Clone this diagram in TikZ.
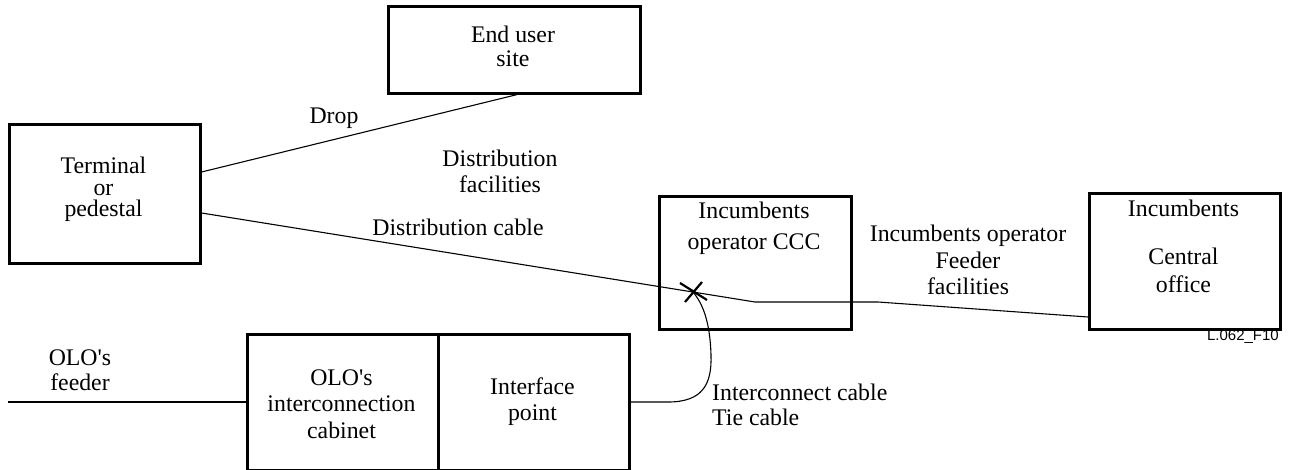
\documentclass[tikz,border=0pt]{standalone}
\usepackage{fontspec}
\setmainfont{Liberation Serif}
\setsansfont{Liberation Sans}
\newcommand{\apos}{\textquotesingle}
\begin{document}
\begin{tikzpicture}[x=1pt,y=-1pt,
  box/.style={draw, line width=2.6pt, inner sep=0pt, anchor=north west},
  lbl/.style={align=center, inner sep=0pt, anchor=base, font=\fontsize{23.8}{26}\selectfont},
  cable/.style={line width=1.1pt},
  crossmark/.style={line width=2.2pt}]
\useasboundingbox (0,0) rectangle (1289,470);

% boxes
\node[box, minimum width=191, minimum height=139] (term) at (8,123) {};
\node[box, minimum width=252, minimum height=87]  (eu)   at (387,5) {};
\node[box, minimum width=192, minimum height=133] (ccc)  at (658,195) {};
\node[box, minimum width=191, minimum height=136] (co)   at (1088,192) {};
\node[box, minimum width=191, minimum height=135.5] (olo) at (246,333) {};
\node[box, minimum width=191, minimum height=135.5] (ip)  at (437,333) {};

% box texts (anchored at the baseline of the last line)
\node[lbl, font=\fontsize{23.8}{21.5}\selectfont] (termtxt) at (103.5,217) {Terminal\\or\\pedestal};
\node[lbl, font=\fontsize{23.8}{24}\selectfont] (eutxt) at (513,67) {End user\\site};
\node[lbl, font=\fontsize{23.8}{32}\selectfont] (ccctxt) at (754,250) {Incumbents\\operator CCC};
\node[lbl] (cotop) at (1183.5,217) {Incumbents};
\node[lbl, font=\fontsize{23.8}{28}\selectfont] (cotxt) at (1183.5,292) {Central\\office};
\node[lbl, font=\fontsize{23.8}{26.5}\selectfont] (olotxt) at (341.5,438) {OLO\apos s\\interconnection\\cabinet};
\node[lbl] (iptxt) at (532.5,420) {Interface\\point};

% free labels
\node[lbl] (droplbl) at (334,124) {Drop};
\node[lbl] (distfac) at (500,193) {Distribution\\facilities};
\node[lbl] (distcab) at (458,236) {Distribution cable};
\node[lbl] (feedfac) at (968,294) {Incumbents operator\\Feeder\\facilities};
\node[lbl, font=\fontsize{23.8}{25}\selectfont] (ololbl) at (80,390) {OLO\apos s\\feeder};
\node[lbl, align=left, anchor=base west, font=\fontsize{23.8}{25}\selectfont] (tielbl) at (712,425) {Interconnect cable\\Tie cable};
\node[inner sep=0pt, anchor=base east, font=\sffamily\fontsize{15}{17}\selectfont] (figid) at (1279,340) {L.062\_F10};

% junction points
\coordinate (xp) at (693,292);
\coordinate (bendA) at (755,302);
\coordinate (bendB) at (878,302);
\coordinate (feedend) at (8,402);

% connectors
\draw[cable] ([yshift=-49pt]term.north east) -- ([xshift=130pt]eu.south west);
\draw[cable] ([yshift=-90pt]term.north east) -- (bendA) -- (bendB) -- ([yshift=-125pt]co.north west);
\draw[cable] (feedend) -- ([yshift=-69pt]olo.north west);
\draw[cable] ([yshift=-69pt]ip.north east) -- (668,402)
  .. controls (702,402) and (712,385) .. (711,355)
  .. controls (710,322) and (703,304) .. (xp);

% cross-connect mark
\draw[crossmark] ([shift={(-13,-9)}]xp) -- ([shift={(14,8)}]xp);
\draw[crossmark] ([shift={(-8,10)}]xp) -- ([shift={(9,-10)}]xp);
\end{tikzpicture}
\end{document}
